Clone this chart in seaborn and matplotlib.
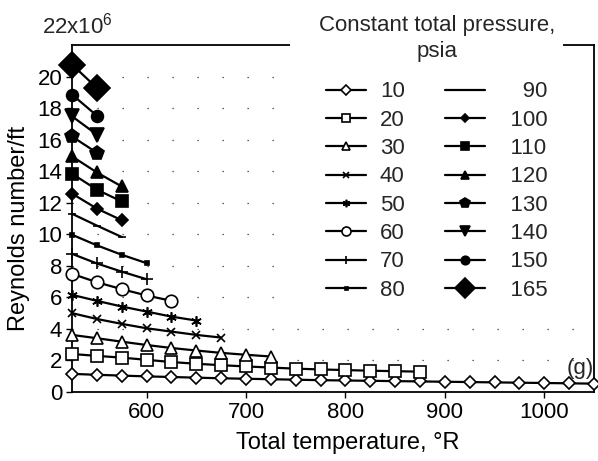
import numpy as np
import pandas as pd
import matplotlib
matplotlib.use("Agg")
import matplotlib.pyplot as plt
from matplotlib.patches import Rectangle
import seaborn as sns

# ---------------- data ----------------
pressures = [10, 20, 30, 40, 50, 60, 70, 80, 90, 100, 110, 120, 130, 140, 150, 165]

temps_10 = [525, 550, 575, 600, 625, 650, 675, 700, 725, 750, 775, 800, 825, 850,
            875, 900, 925, 950, 975, 1000, 1025, 1050]
re_10 = [1.15, 1.09, 1.04, 0.99, 0.95, 0.91, 0.87, 0.84, 0.81, 0.78, 0.75, 0.73,
         0.71, 0.69, 0.67, 0.65, 0.63, 0.61, 0.59, 0.57, 0.55, 0.53]

temps_20 = [525, 550, 575, 600, 625, 650, 675, 700, 725, 750, 775, 800, 825, 850, 875]
re_20 = [2.41, 2.29, 2.18, 2.04, 1.90, 1.79, 1.70, 1.62, 1.55, 1.48, 1.43, 1.39,
         1.35, 1.32, 1.29]

temps_30 = [525, 550, 575, 600, 625, 650, 675, 700, 725]
re_30 = [3.62, 3.41, 3.19, 2.98, 2.79, 2.63, 2.48, 2.36, 2.25]

temps_40 = [525, 550, 575, 600, 625, 650, 675]
re_40 = [5.00, 4.63, 4.32, 4.04, 3.83, 3.62, 3.45]

temps_50 = [525, 550, 575, 600, 625, 650]
re_50 = [6.16, 5.78, 5.42, 5.10, 4.78, 4.53]

temps_60 = [525, 550, 575, 600, 625]
re_60 = [7.49, 6.96, 6.52, 6.12, 5.78]

temps_70 = [525, 550, 575, 600]
re_70 = [8.76, 8.15, 7.63, 7.15]

temps_80 = [525, 550, 575, 600]
re_80 = [9.97, 9.30, 8.70, 8.17]

temps_90 = [525, 550, 575]
re_90 = [11.30, 10.55, 9.83]

temps_100 = [525, 550, 575]
re_100 = [12.58, 11.63, 10.89]

temps_110 = [525, 550, 575]
re_110 = [13.84, 12.83, 12.08]

temps_120 = [525, 550, 575]
re_120 = [14.94, 13.92, 13.03]

temps_130 = [525, 550]
re_130 = [16.20, 15.17]

temps_140 = [525, 550]
re_140 = [17.48, 16.32]

temps_150 = [525, 550]
re_150 = [18.86, 17.52]

temps_165 = [525, 550]
re_165 = [20.76, 19.28]

x_ticks = [600, 700, 800, 900, 1000]
y_ticks = [0, 2, 4, 6, 8, 10, 12, 14, 16, 18, 20]
x_label = "Total temperature, °R"
y_label = "Reynolds number/ft"
legend_title_1 = "Constant total pressure,"
legend_title_2 = "psia"
top_label = "22x10$^{6}$"
panel_label = "(g)"

series_x = [temps_10, temps_20, temps_30, temps_40, temps_50, temps_60, temps_70,
            temps_80, temps_90, temps_100, temps_110, temps_120, temps_130,
            temps_140, temps_150, temps_165]
series_y = [re_10, re_20, re_30, re_40, re_50, re_60, re_70, re_80, re_90, re_100,
            re_110, re_120, re_130, re_140, re_150, re_165]

# marker styles: (marker, size, face)
styles = {
    10: ("D", 6.5, "white"),
    20: ("s", 8, "white"),
    30: ("^", 8, "white"),
    40: ("x", 6, "black"),
    50: ((6, 2, 0), 7.5, "black"),
    60: ("o", 9, "white"),
    70: ("+", 8, "black"),
    80: ("s", 3, "black"),
    90: ("_", 6, "black"),
    100: ("D", 6, "black"),
    110: ("s", 8, "black"),
    120: ("^", 8, "black"),
    130: ("p", 10, "black"),
    140: ("v", 10, "black"),
    150: ("o", 8.5, "black"),
    165: ("D", 13.5, "black"),
}

# ---------------- figure ----------------
sns.set_theme(style="ticks")
plt.rcParams["font.family"] = ["Liberation Sans", "DejaVu Sans"]
plt.rcParams["mathtext.default"] = "regular"

fig = plt.figure(figsize=(5.98, 4.61), dpi=100)
ax = fig.add_axes([72 / 598, 1 - 392 / 461, (594 - 72) / 598, (392 - 45) / 461])

handles = []
for p, xs, ys in zip(pressures, series_x, series_y):
    m, ms, fc = styles[p]
    df = pd.DataFrame({"T": xs, "Re": ys})
    sns.lineplot(data=df, x="T", y="Re", ax=ax, color="black", linewidth=1.6,
                 marker=m, markersize=ms, markerfacecolor=fc,
                 markeredgecolor="black", markeredgewidth=1.2,
                 label=str(p), legend=False, zorder=3, clip_on=False)
    handles.append(ax.get_lines()[-1])

ax.set_xlim(525, 1050)
ax.set_ylim(0, 22)
ax.set_xticks(x_ticks)
ax.set_yticks(y_ticks)
ax.tick_params(axis="both", labelsize=16, direction="out", length=4, width=1,
               color="black", labelcolor="black", pad=3)
for s in ax.spines.values():
    s.set_visible(True)
    s.set_color("black")
    s.set_linewidth(1.3)

# sparse dotted grid
ax.grid(False)
for yv in y_ticks[1:]:
    ax.axhline(yv, color="#333333", linewidth=0.9, linestyle=(0, (1, 19)), zorder=1)

ax.set_xlabel(x_label, fontsize=17, color="black")
ax.set_ylabel(y_label, fontsize=17, color="black")
ax.xaxis.set_label_coords(0.529, -0.115)
ax.yaxis.set_label_coords(-0.08, 0.47)

fig.text(77 / 598, 1 - 33 / 461, top_label, fontsize=16, ha="center", va="baseline")
ax.text(1.0, 0.052, panel_label, transform=ax.transAxes, fontsize=16,
        ha="right", va="baseline")

# white blocks behind the legend (hide top spine and grid dots there)
fig.add_artist(Rectangle((290 / 598, 1 - 53 / 461), (563 - 290) / 598, 16 / 461,
                         transform=fig.transFigure, facecolor="white",
                         edgecolor="none", zorder=1))
fig.add_artist(Rectangle((290 / 598, 1 - 302 / 461), (586 - 290) / 598, 250 / 461,
                         transform=fig.transFigure, facecolor="white",
                         edgecolor="none", zorder=1))
fig.text(437 / 598, 1 - 25 / 461, legend_title_1, fontsize=16, ha="center",
         va="center", zorder=3)
fig.text(437 / 598, 1 - 51 / 461, legend_title_2, fontsize=16, ha="center",
         va="center", zorder=3)

fs = "\u2007"
labels = [str(p) if i < 8 else (fs * (4 - len(str(p)))) + str(p)
          for i, p in enumerate(pressures)]
leg = fig.legend(handles, labels, ncol=2, loc="upper center",
                 bbox_to_anchor=(437 / 598, 1 - 77 / 461), fontsize=16,
                 frameon=False, handlelength=1.8, handletextpad=0.6,
                 columnspacing=1.8, labelspacing=0.33, borderpad=0.2,
                 borderaxespad=0, markerscale=0.72)
leg.set_zorder(5)

fig.savefig("out.png", dpi=100)
